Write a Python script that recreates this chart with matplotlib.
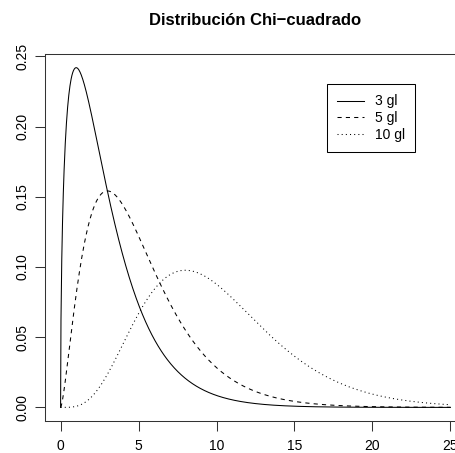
import math
import numpy as np
import matplotlib
matplotlib.use("Agg")
import matplotlib.pyplot as plt

plt.rcParams["font.family"] = ["Liberation Sans", "DejaVu Sans"]

# degrees of freedom shown in the legend
dfs = [3, 5, 10]
labels = ["3 gl", "5 gl", "10 gl"]
styles = ["-", (0, (4, 4)), (0, (1, 3))]

x_ticks = [0, 5, 10, 15, 20, 25]
y_ticks = [0.00, 0.05, 0.10, 0.15, 0.20, 0.25]
y_tick_labels = ["0.00", "0.05", "0.10", "0.15", "0.20", "0.25"]


def chi2_pdf(x, k):
    return x ** (k / 2 - 1) * np.exp(-x / 2) / (2 ** (k / 2) * math.gamma(k / 2))


W, H = 455, 453
fig = plt.figure(figsize=(W / 100, H / 100), dpi=100)
# plot region in pixels (right edge runs past the image, like the original)
left, right, top, bottom = 45, 466, 54, 421
ax = fig.add_axes([left / W, 1 - bottom / H, (right - left) / W, (bottom - top) / H])

xs = np.linspace(0, 25, 1001)
for k, lab, ls in zip(dfs, labels, styles):
    ax.plot(xs, chi2_pdf(xs, k), color="black", lw=0.75, linestyle=ls, label=lab)

ax.set_xlim(-1, 26)
ax.set_ylim(-0.00968, 0.2517)
ax.set_xticks(x_ticks)
ax.set_xticklabels([str(t) for t in x_ticks])
ax.set_yticks(y_ticks)
ax.set_yticklabels(y_tick_labels, rotation=90, va="center")
ax.tick_params(axis="both", length=7, width=0.75, labelsize=10, color="#333333")
ax.tick_params(axis="x", pad=6)
ax.tick_params(axis="y", pad=4)
for s in ax.spines.values():
    s.set_linewidth(0.75)
    s.set_color("#333333")

ax.set_title("Distribución Chi\u2212cuadrado", fontsize=12, fontweight="bold", pad=21)

leg = ax.legend(loc="upper left", bbox_to_anchor=(327 / W, 1 - 84 / H),
                bbox_transform=fig.transFigure, borderaxespad=0, fancybox=False,
                edgecolor="black", fontsize=10, handlelength=1.9, handletextpad=0.8,
                borderpad=0.75, labelspacing=0.2, framealpha=1)
leg.get_frame().set_linewidth(0.75)

fig.savefig("out.png", dpi=100)
